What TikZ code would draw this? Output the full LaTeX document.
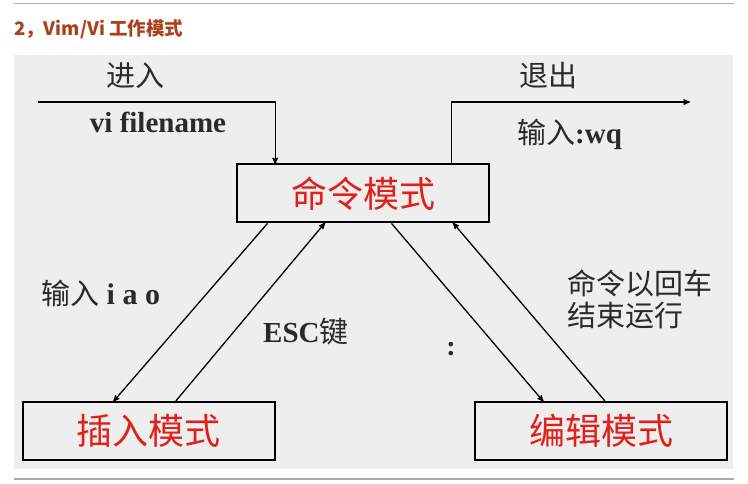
\documentclass[tikz,border=0pt]{standalone}
\usepackage{fontspec}
\setmainfont{Liberation Serif}
\newfontfamily\cjk{Noto Sans CJK SC}
\usepackage{xcolor}
\usetikzlibrary{arrows}
\definecolor{panel}{HTML}{EEEEEE}
\definecolor{rulegray}{HTML}{AAAAAA}
\definecolor{heading}{RGB}{170,65,25}
\definecolor{ink}{HTML}{2A2A2A}
\definecolor{modered}{HTML}{E0201A}
\tikzset{>=stealth',
         mode/.style={draw, line width=2.2pt, minimum width=252pt, minimum height=58pt,
                      inner sep=0pt, text=modered, font=\cjk\fontsize{36}{36}\selectfont},
         note/.style={inner sep=0pt, text=ink, font=\cjk\fontsize{29}{29}\selectfont},
         link/.style={->, line width=1.3pt, shorten >=-1pt},
         }

\begin{document}
\begin{tikzpicture}[x=1pt, y=-1pt]
    \useasboundingbox (0,0) rectangle (748,483);
    \draw[rulegray, line width=1.5pt] (14,3.5) -- (734,3.5);
    \fill[panel] (14,55) rectangle (733,469);
    \draw[rulegray, line width=1.5pt] (14,479) -- (734,479);
    \node[anchor=base west, inner sep=0pt, text=heading,
          font=\cjk\bfseries\fontsize{18.5}{18.5}\selectfont] (title) at (14,35.5) {2，Vim/Vi 工作模式};

    \node[mode] (cmd)  at (363.3,193.3) {命令模式};
    \node[mode] (ins)  at (148.7,431)   {插入模式};
    \node[mode] (edit) at (601,431)     {编辑模式};

    \coordinate (enter) at (38,102);
    \coordinate (leave) at (689,102);
    \draw[link] (enter) -| ([xshift=39pt]cmd.north west);
    \draw[link] ([xshift=215pt]cmd.north west) |- (leave);

    \draw[link] ([xshift=31.3pt]cmd.south west) -- ([xshift=92.3pt]ins.north west);
    \draw[link] ([xshift=154.3pt]ins.north west) -- ([xshift=88.3pt]cmd.south west);
    \draw[link] ([xshift=155.3pt]cmd.south west) -- ([xshift=69pt]edit.north west);
    \draw[link] ([xshift=131pt]edit.north west) -- ([xshift=217.3pt]cmd.south west);

    \node[note] (in)    at (135.5,76) {进入};
    \node[note, anchor=base, font=\bfseries\fontsize{29}{29}\selectfont] (vi) at (158,132) {vi filename};
    \node[note] (out)   at (548,75) {退出};
    \node[note, anchor=base west] (wq) at (517,143) {输入\textrm{\bfseries :wq}};
    \node[note, anchor=base west] (iao) at (41,304) {输入\textrm{\bfseries\fontsize{30}{30}\selectfont\ i a o}};
    \node[note, anchor=base west] (esc) at (263,342) {\textrm{\bfseries\fontsize{29}{29}\selectfont ESC}键};
    \node[note, anchor=base, font=\bfseries\fontsize{28}{28}\selectfont] (colon) at (451,355) {:};
    \node[note, anchor=north west, align=left] (run) at (567,270)
        {命令以回车\\[3pt]结束运行};
\end{tikzpicture}
\end{document}
